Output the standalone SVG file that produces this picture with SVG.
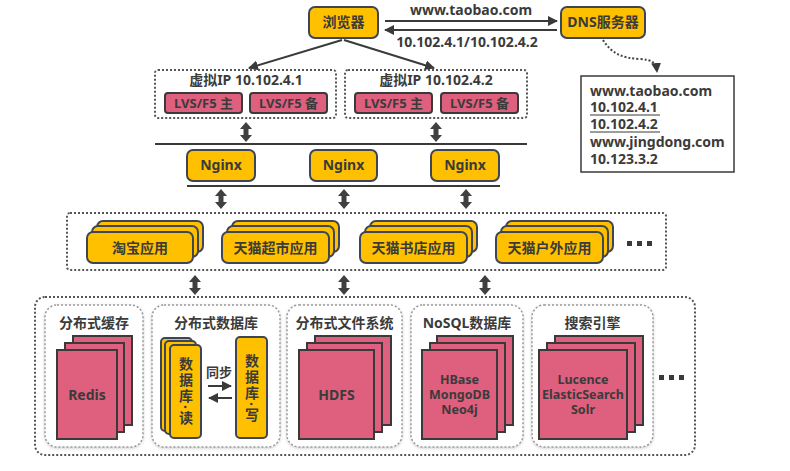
<svg xmlns="http://www.w3.org/2000/svg" width="790" height="471" viewBox="0 0 790 471">
<style>
text{font-family:"Noto Sans","Noto Sans CJK SC",sans-serif;font-weight:bold;fill:#3b3b3b;text-anchor:middle}
.or{fill:#FFC000;stroke:#3e4656;stroke-width:2}
.rd{fill:#DF5F7E;stroke:#3a3a3a;stroke-width:2}
.dot{fill:none;stroke:#555;stroke-width:2;stroke-dasharray:2 2}
.inner{fill:#fff;stroke:#999;stroke-width:1.5;stroke-dasharray:2 2;filter:url(#sh)}
.ln{stroke:#3a3a3a;stroke-width:2;fill:none}
.t12{font-size:12.5px}
.t13{font-size:13px}
.t14{font-size:14px}
.vt{font-size:14px;writing-mode:vertical-rl;letter-spacing:2px}
.lt{text-anchor:start}
</style>
<defs>
<filter id="sh" x="-10%" y="-10%" width="120%" height="120%"><feDropShadow dx="0" dy="1" stdDeviation="1.5" flood-color="#000" flood-opacity="0.2"/></filter>
<marker id="ah" viewBox="0 0 10 10" refX="9" refY="5" markerWidth="5" markerHeight="5" orient="auto-start-reverse"><path d="M0 0L10 5L0 10z" fill="#3a3a3a"/></marker>
<polygon id="dbl" points="0,0 6,7 2.5,7 2.5,13 6,13 0,20 -6,13 -2.5,13 -2.5,7 -6,7" fill="#404040"/>
<g id="sq3"><rect x="0" y="0" width="5" height="5" fill="#3a3a3a"/><rect x="10" y="0" width="5" height="5" fill="#3a3a3a"/><rect x="20" y="0" width="5" height="5" fill="#3a3a3a"/></g>
</defs>

<g id="connectors">
<line class="ln" x1="385" y1="21" x2="557" y2="21" marker-end="url(#ah)"/>
<line class="ln" x1="557" y1="30" x2="385" y2="30" marker-end="url(#ah)"/>
<text class="t14" x="471" y="15">www.taobao.com</text>
<text class="t14" x="467" y="47">10.102.4.1/10.102.4.2</text>
<path d="M603 40 C612 54 622 58 640 59 C652 60 656 62 657 72" fill="none" stroke="#444" stroke-width="2" stroke-dasharray="2 2" marker-end="url(#ah)"/>
<line class="ln" x1="342" y1="40" x2="249" y2="68" marker-end="url(#ah)"/>
<line class="ln" x1="344" y1="40" x2="434" y2="68" marker-end="url(#ah)"/>
<use href="#dbl" x="246" y="122"/>
<use href="#dbl" x="436" y="122"/>
<line class="ln" x1="155" y1="144" x2="527" y2="144"/>
<line class="ln" x1="187" y1="186" x2="500" y2="186"/>
<use href="#dbl" x="221" y="189"/>
<use href="#dbl" x="344" y="189"/>
<use href="#dbl" x="466" y="189"/>
<use href="#dbl" x="195" y="275"/>
<use href="#dbl" x="344" y="275"/>
<use href="#dbl" x="485" y="275"/>
</g>

<g id="browser">
<rect class="or" x="309" y="7" width="69" height="31" rx="6"/>
<text class="t14" x="343.5" y="27">浏览器</text>
</g>
<g id="dns">
<rect class="or" x="561" y="7" width="84" height="31" rx="6"/>
<text class="t14" x="603" y="27">DNS服务器</text>
</g>
<g id="dns-table">
<rect x="581" y="76" width="153" height="96" fill="#fff" stroke="#3a3a3a" stroke-width="1.5"/>
<text class="t14 lt" x="590" y="96">www.taobao.com</text>
<text class="t14 lt" x="590" y="112">10.102.4.1</text>
<line x1="590" y1="115" x2="660" y2="115" stroke="#3a3a3a" stroke-width="1"/>
<text class="t14 lt" x="590" y="129">10.102.4.2</text>
<line x1="590" y1="132" x2="660" y2="132" stroke="#3a3a3a" stroke-width="1"/>
<text class="t14 lt" x="590" y="147">www.jingdong.com</text>
<text class="t14 lt" x="590" y="164">10.123.3.2</text>
</g>

<g id="vip1">
<rect class="dot" x="155" y="70" width="181" height="48" rx="3"/>
<text class="t14" x="246" y="85">虚拟IP 10.102.4.1</text>
<rect class="rd" x="165" y="93" width="77" height="20" rx="3"/>
<text class="t13" x="203.5" y="108">LVS/F5 主</text>
<rect class="rd" x="250" y="93" width="77" height="20" rx="3"/>
<text class="t13" x="288.5" y="108">LVS/F5 备</text>
</g>
<g id="vip2">
<rect class="dot" x="345" y="70" width="182" height="48" rx="3"/>
<text class="t14" x="436" y="85">虚拟IP 10.102.4.2</text>
<rect class="rd" x="355" y="93" width="77" height="20" rx="3"/>
<text class="t13" x="393.5" y="108">LVS/F5 主</text>
<rect class="rd" x="441" y="93" width="77" height="20" rx="3"/>
<text class="t13" x="479.5" y="108">LVS/F5 备</text>
</g>

<g id="nginx1"><rect class="or" x="187" y="150" width="68" height="31" rx="6"/><text class="t14" x="221" y="170">Nginx</text></g>
<g id="nginx2"><rect class="or" x="310" y="150" width="67" height="31" rx="6"/><text class="t14" x="343.5" y="170">Nginx</text></g>
<g id="nginx3"><rect class="or" x="431" y="150" width="68" height="31" rx="6"/><text class="t14" x="465" y="170">Nginx</text></g>

<g id="app-layer">
<rect class="dot" x="67" y="213" width="599" height="57" rx="3"/>
<use href="#sq3" x="627" y="241"/>
</g>
<g id="app1">
<rect class="or" x="97" y="221" width="106" height="31" rx="6"/>
<rect class="or" x="92" y="226" width="106" height="31" rx="6"/>
<rect class="or" x="87" y="232" width="106" height="31" rx="6"/>
<text class="t14" x="140" y="253">淘宝应用</text>
</g>
<g id="app2">
<rect class="or" x="232" y="221" width="107" height="31" rx="6"/>
<rect class="or" x="227" y="226" width="107" height="31" rx="6"/>
<rect class="or" x="222" y="232" width="107" height="31" rx="6"/>
<text class="t14" x="275.5" y="253">天猫超市应用</text>
</g>
<g id="app3">
<rect class="or" x="370" y="221" width="107" height="31" rx="6"/>
<rect class="or" x="365" y="226" width="107" height="31" rx="6"/>
<rect class="or" x="360" y="232" width="107" height="31" rx="6"/>
<text class="t14" x="413.5" y="253">天猫书店应用</text>
</g>
<g id="app4">
<rect class="or" x="506" y="221" width="107" height="31" rx="6"/>
<rect class="or" x="501" y="226" width="107" height="31" rx="6"/>
<rect class="or" x="496" y="232" width="107" height="31" rx="6"/>
<text class="t14" x="549.5" y="253">天猫户外应用</text>
</g>

<g id="storage-layer">
<rect class="dot" x="35" y="297" width="660" height="158" rx="10"/>
<use href="#sq3" x="659" y="375"/>
</g>
<g id="cache">
<rect class="inner" x="45" y="305" width="98" height="142" rx="12"/>
<text class="t14" x="94" y="328">分布式缓存</text>
<rect class="rd" x="73" y="336" width="59" height="89"/>
<rect class="rd" x="65" y="343" width="59" height="89"/>
<rect class="rd" x="57" y="350" width="60" height="89"/>
<text class="t14" x="87" y="400">Redis</text>
</g>
<g id="db">
<rect class="inner" x="152" y="305" width="128" height="142" rx="12"/>
<text class="t14" x="216" y="328">分布式数据库</text>
<rect class="or" x="161" y="338" width="31" height="93" rx="4"/>
<rect class="or" x="165" y="341" width="31" height="93" rx="4"/>
<rect class="or" x="170" y="345" width="31" height="93" rx="4"/>
<text class="vt" x="185.5" y="392">数据库·读</text>
<rect class="or" x="236" y="337" width="31" height="101" rx="4"/>
<text class="vt" x="251.5" y="389">数据库·写</text>
<text class="t13" x="219" y="377">同步</text>
<line class="ln" x1="208" y1="386" x2="231" y2="386" marker-end="url(#ah)"/>
<line class="ln" x1="232" y1="398" x2="209" y2="398" marker-end="url(#ah)"/>
</g>
<g id="fs">
<rect class="inner" x="287" y="305" width="115" height="142" rx="12"/>
<text class="t14" x="344.5" y="328">分布式文件系统</text>
<rect class="rd" x="315" y="336" width="76" height="89"/>
<rect class="rd" x="307" y="343" width="75" height="89"/>
<rect class="rd" x="299" y="350" width="75" height="89"/>
<text class="t14" x="336.5" y="400">HDFS</text>
</g>
<g id="nosql">
<rect class="inner" x="411" y="305" width="112" height="142" rx="12"/>
<text class="t14" x="467" y="328">NoSQL数据库</text>
<rect class="rd" x="437" y="336" width="76" height="89"/>
<rect class="rd" x="430" y="343" width="75" height="89"/>
<rect class="rd" x="422" y="350" width="75" height="89"/>
<text class="t12" x="459.5" y="384"><tspan x="459.5">HBase</tspan><tspan x="459.5" dy="15">MongoDB</tspan><tspan x="459.5" dy="15">Neo4j</tspan></text>
</g>
<g id="search">
<rect class="inner" x="532" y="305" width="121" height="142" rx="12"/>
<text class="t14" x="592.5" y="328">搜索引擎</text>
<rect class="rd" x="555" y="336" width="88" height="89"/>
<rect class="rd" x="547" y="343" width="88" height="89"/>
<rect class="rd" x="539" y="350" width="88" height="89"/>
<text class="t12" x="583" y="384"><tspan x="583">Lucence</tspan><tspan x="583" dy="15">ElasticSearch</tspan><tspan x="583" dy="15">Solr</tspan></text>
</g>
</svg>
